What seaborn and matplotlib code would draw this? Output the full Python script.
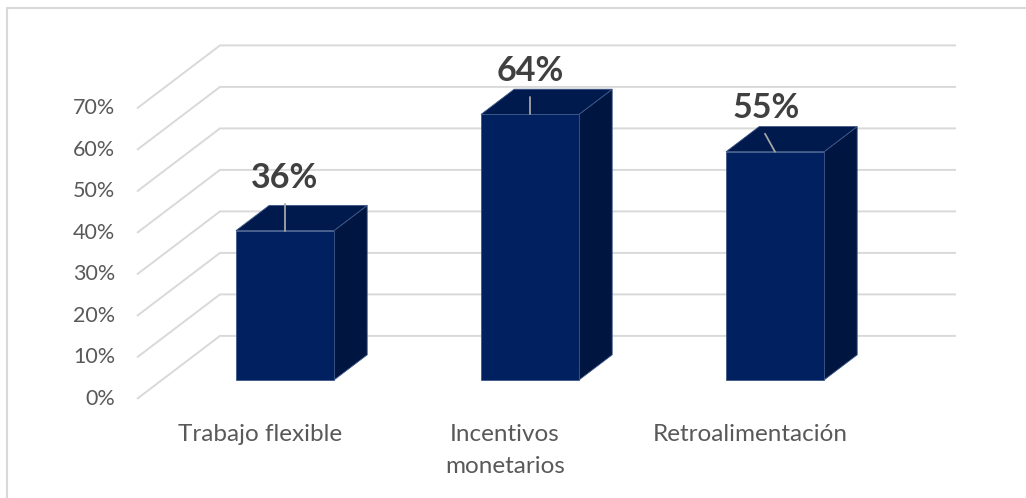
import matplotlib
matplotlib.use("Agg")
import matplotlib.pyplot as plt
from matplotlib.patches import Polygon
from matplotlib.lines import Line2D
import seaborn as sns
import pandas as pd

# Survey results
categories = ["Trabajo flexible", "Incentivos monetarios", "Retroalimentación"]
axis_labels = ["Trabajo flexible", "Incentivos\nmonetarios", "Retroalimentación"]
values = [36, 64, 55]
y_ticks = [0, 10, 20, 30, 40, 50, 60, 70]
tick_labels = [f"{t}%" for t in y_ticks]

# Colours
FRONT = "#002060"
TOP = "#001A4E"
SIDE = "#001641"
EDGE = "#3E5887"
GRID = "#D9D9D9"
TICK = "#595959"
LABEL = "#404040"
LEADER = "#A6A6A6"

sns.set_theme(style="white")
plt.rcParams["font.family"] = ["Lato", "DejaVu Sans"]

W, H, DPI = 1026, 498, 100
fig = plt.figure(figsize=(W / DPI, H / DPI), dpi=DPI)
ax = fig.add_axes([0, 0, 1, 1])

df = pd.DataFrame({"cat": categories, "val": values})
sns.barplot(data=df, x="cat", y="val", order=categories, width=0.4,
            color=FRONT, saturation=1, edgecolor=EDGE, linewidth=0.6,
            zorder=4, ax=ax)

# Data units per pixel: one category step spans 245 px, one percent 4.15 px
PX_X, PX_Y = 245.0, 4.15
X0_PX, Y0_PX = 285, 380          # first bar centre / baseline, pixels from top-left
ax.set_xlim(-X0_PX / PX_X, (W - X0_PX) / PX_X)
ax.set_ylim(-(H - Y0_PX) / PX_Y, Y0_PX / PX_Y)
ax.axis("off")


def px(dx=0.0, dy=0.0):
    """Pixel offset -> data offset (dy positive = upwards)."""
    return dx / PX_X, dy / PX_Y


# Floor depth vector and walls of the 3-D box
DX, DY = px(83, 63)
floor_front_y = -0.3 * DY
wall_left_x = px(-148)[0]
wall_right_x = px(671)[0]

for t, lab in zip(y_ticks, tick_labels):
    yf = t + floor_front_y
    ax.plot([wall_left_x, wall_left_x + DX, wall_right_x],
            [yf, yf + DY, yf + DY], color=GRID, lw=1.4, zorder=1,
            solid_joinstyle="miter", solid_capstyle="butt")
    ax.text(wall_left_x + px(-22)[0], yf, lab, ha="right", va="center",
            fontsize=15.5, color=TICK)

# Extrude each seaborn bar into a box: top and right side faces
bdx, bdy = 0.4 * DX, 0.4 * DY
for p in ax.patches[:len(values)]:
    x, y, w, h = p.get_x(), p.get_y(), p.get_width(), p.get_height()
    ax.add_patch(Polygon([(x + w, y), (x + w + bdx, y + bdy),
                          (x + w + bdx, y + h + bdy), (x + w, y + h)],
                         closed=True, facecolor=SIDE, edgecolor=EDGE,
                         lw=0.6, zorder=3))
    ax.add_patch(Polygon([(x, y + h), (x + w, y + h),
                          (x + w + bdx, y + h + bdy), (x + bdx, y + h + bdy)],
                         closed=True, facecolor=TOP, edgecolor=EDGE,
                         lw=0.6, zorder=3))

# Data labels with leader lines
label_off_px = [(0, 53), (0, 43), (-9, 44)]
leader_end_px = [(0, 27), (0, 17), (-10, 18)]
for i, (v, (lx, ly), (ex, ey)) in enumerate(zip(values, label_off_px, leader_end_px)):
    ox, oy = px(ex, ey)
    ax.plot([i, i + ox], [v, v + oy], color=LEADER, lw=1.3, zorder=5)
    tx, ty = px(lx, ly)
    ax.text(i + tx, v + ty, f"{v}%", ha="center", va="center",
            fontsize=24.5, fontweight="bold", color=LABEL, zorder=6)

# Category labels below the floor
cat_dx = px(-25)[0]
cat_top = px(0, -44)[1]
for i, lab in enumerate(axis_labels):
    ax.text(i + cat_dx, cat_top, lab, ha="center", va="top", fontsize=17.5,
            color=TICK, linespacing=1.65)

# Chart frame
fx, fy = 7 / W, 1 - 8.5 / H
fig.add_artist(Line2D([fx, fx], [0, fy], transform=fig.transFigure,
                      color=GRID, lw=1.5))
fig.add_artist(Line2D([fx, 1], [fy, fy], transform=fig.transFigure,
                      color=GRID, lw=1.5))

fig.savefig("out.png", dpi=DPI, facecolor="white")
